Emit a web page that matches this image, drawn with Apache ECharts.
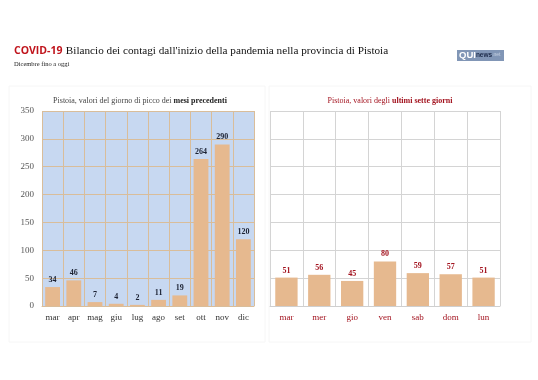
<!DOCTYPE html>
<html><head><meta charset="utf-8">
<script src="https://cdn.jsdelivr.net/npm/echarts@6/dist/echarts.min.js"></script>
<style>html,body{margin:0;padding:0;background:#fff}#c{width:538px;height:380px}</style>
</head><body><div id="c"></div>
<script>
const monthCategories = ['mar','apr','mag','giu','lug','ago','set','ott','nov','dic'];
const monthValues = [34,46,7,4,2,11,19,264,290,120];
const dayCategories = ['mar','mer','gio','ven','sab','dom','lun'];
const dayValues = [51,56,45,80,59,57,51];
const yMax = 350, yStep = 50;

const serif = '"Liberation Serif","DejaVu Serif",serif';
const sans = '"Liberation Sans",sans-serif';
const barColor = '#e6b98f';
const chart = echarts.init(document.getElementById('c'), null, {renderer:'canvas'});
chart.setOption({
  backgroundColor:'#fff',
  animation:false,
  title:[
    {left:135, top:92, textAlign:'center', text:'{a|Pistoia, valori del giorno di picco dei }{b|mesi precedenti}',
     textStyle:{fontWeight:'normal',rich:{a:{fontFamily:serif,fontSize:8,fontWeight:'normal',color:'#444'},b:{fontFamily:serif,fontSize:8,fontWeight:'bold',color:'#222'}}}},
    {left:385, top:92, textAlign:'center', text:'{a|Pistoia, valori degli }{b|ultimi sette giorni}',
     textStyle:{fontWeight:'normal',rich:{a:{fontFamily:serif,fontSize:8,fontWeight:'normal',color:'#a3131f'},b:{fontFamily:serif,fontSize:8,fontWeight:'bold',color:'#a3131f'}}}}
  ],
  graphic:[
    {type:'text', left:14, top:45, style:{rich:{a:{fontFamily:'"Open Sans","Liberation Sans",sans-serif',fontSize:10.5,fontWeight:'bold',fill:'#c0141c'},b:{fontFamily:serif,fontSize:11.2,fill:'#111'}}, text:'{a|COVID-19} {b|Bilancio dei contagi dall\'inizio della pandemia nella provincia di Pistoia}'}},
    {type:'text', left:14, top:61, style:{text:'Dicembre fino a oggi', fontFamily:serif, fontSize:6.5, fill:'#222'}},
    {type:'rect', shape:{x:457,y:50,width:47,height:11}, style:{fill:'#8196b6'}},
    {type:'text', left:459, top:50, style:{rich:{q:{fontFamily:sans,fontSize:9.5,fontWeight:'bold',fill:'#fff'},n:{fontFamily:sans,fontSize:6.5,fontWeight:'bold',fill:'#1d2b4a'},t:{fontFamily:sans,fontSize:5,fill:'#c8d3e4'}}, text:'{q|QUI}{n|news}{t|.net}'}},
    {type:'rect', shape:{x:9,y:86,width:256,height:256}, style:{fill:'none',stroke:'#f6f6f6',lineWidth:1}},
    {type:'rect', shape:{x:269,y:86,width:262,height:256}, style:{fill:'none',stroke:'#f6f6f6',lineWidth:1}}
  ],
  grid:[
    {left:42, right:284, top:111, bottom:74, show:true, backgroundColor:'#c7d8f1', borderWidth:0},
    {left:270, right:38, top:111, bottom:74, show:false}
  ],
  xAxis:[
    {type:'category', gridIndex:0, data:monthCategories,
     axisLine:{show:true,lineStyle:{color:'#d9bd9a'}}, axisTick:{show:false},
     axisLabel:{fontFamily:serif,fontSize:9,color:'#333',margin:7},
     splitLine:{show:true,lineStyle:{color:'#d9bd9a',width:1}}},
    {type:'category', gridIndex:1, data:dayCategories,
     axisLine:{show:true,lineStyle:{color:'#cfcfcf'}}, axisTick:{show:false},
     axisLabel:{fontFamily:serif,fontSize:9,color:'#a3131f',margin:7},
     splitLine:{show:true,lineStyle:{color:'#d4d4d4',width:1}}}
  ],
  yAxis:[
    {type:'value', gridIndex:0, min:0, max:yMax, interval:yStep,
     axisLine:{show:false}, axisTick:{show:false},
     axisLabel:{fontFamily:serif,fontSize:9,color:'#555',margin:8},
     splitLine:{show:true,lineStyle:{color:'#d9bd9a',width:1}}},
    {type:'value', gridIndex:1, min:0, max:yMax, interval:yStep,
     axisLine:{show:false}, axisTick:{show:false}, axisLabel:{show:false},
     splitLine:{show:true,lineStyle:{color:'#d4d4d4',width:1}}}
  ],
  series:[
    {type:'bar', xAxisIndex:0, yAxisIndex:0, data:monthValues, barCategoryGap:'30%',
     itemStyle:{color:barColor},
     label:{show:true,position:'top',distance:3,fontFamily:serif,fontSize:8,fontWeight:'bold',color:'#1c2233'}},
    {type:'bar', xAxisIndex:1, yAxisIndex:1, data:dayValues, barCategoryGap:'32%',
     itemStyle:{color:barColor},
     label:{show:true,position:'top',distance:3,fontFamily:serif,fontSize:8,fontWeight:'bold',color:'#a3131f'}}
  ]
});
</script></body></html>
